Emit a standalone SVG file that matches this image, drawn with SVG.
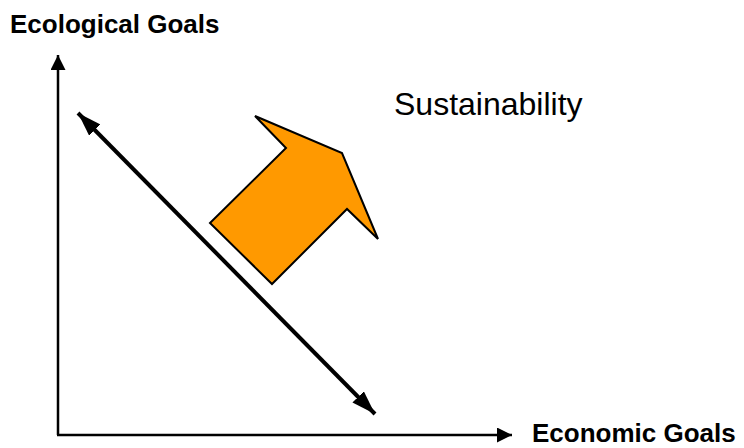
<svg xmlns="http://www.w3.org/2000/svg" width="744" height="448" viewBox="0 0 744 448">
<style>
.axis{stroke:#000;stroke-width:2.5;fill:none}
.diag{stroke:#000;stroke-width:4;fill:none}
.lbl{font-family:"Liberation Sans",Arial,sans-serif;font-weight:bold;font-size:26px;fill:#000}
.big{font-family:"Liberation Sans",Arial,sans-serif;font-size:32px;fill:#000}
</style>
<defs>
<marker id="ah" markerUnits="userSpaceOnUse" markerWidth="15" markerHeight="15" refX="15" refY="7.5" orient="auto" viewBox="0 0 15 15"><path d="M0,0 L15,7.5 L0,15 z" fill="#000"/></marker>
<marker id="dh" markerUnits="userSpaceOnUse" markerWidth="24" markerHeight="16" refX="24" refY="8" orient="auto-start-reverse" viewBox="0 0 24 16"><path d="M0,0 L24,8 L0,16 z" fill="#000"/></marker>
</defs>
<g id="connectors">
<line class="axis" x1="58" y1="435" x2="58" y2="55" marker-end="url(#ah)"/>
<line class="axis" x1="57" y1="435" x2="512" y2="435" marker-end="url(#ah)"/>
<line class="diag" x1="78" y1="113" x2="375" y2="414" marker-start="url(#dh)" marker-end="url(#dh)"/>
</g>
<g id="arrow">
<polygon points="255,116 286,148 210,223 272,284 347,209 378,239 342,153" fill="#FF9900" stroke="#000" stroke-width="2" stroke-linejoin="miter"/>
</g>
<g id="labels">
<text class="lbl" x="10" y="33">Ecological Goals</text>
<text class="lbl" x="532" y="442">Economic Goals</text>
<text class="big" x="394" y="115">Sustainability</text>
</g>
</svg>
